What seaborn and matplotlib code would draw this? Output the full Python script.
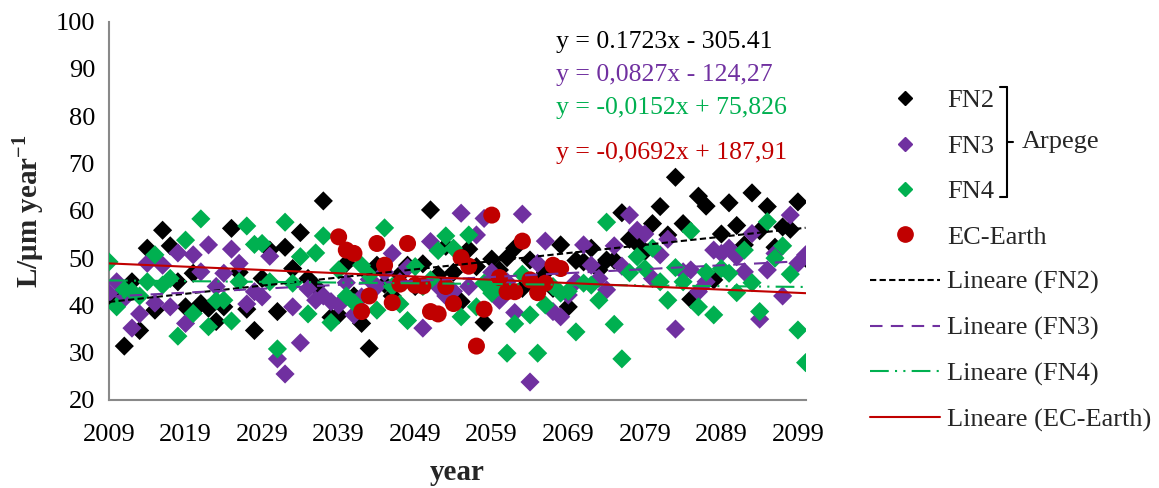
import numpy as np
import pandas as pd
import matplotlib
matplotlib.use("Agg")
import matplotlib.pyplot as plt
import seaborn as sns
from matplotlib.lines import Line2D

years = list(range(2009, 2101))

fn2 = [42.0, 41.5, 31.4, 45.0, 34.7, 52.1, 39.0, 55.9, 52.6, 45.0,
       39.7, 46.8, 40.4, 39.4, 36.6, 39.7, 56.3, 47.0, 39.2, 34.7,
       45.7, 51.7, 38.7, 52.3, 47.8, 55.4, 45.7, 44.0, 62.1, 37.5,
       38.0, 48.9, 42.0, 36.2, 30.9, 48.5, 44.5, 42.0, 46.5, 48.5,
       44.0, 48.8, 60.2, 46.5, 52.5, 47.0, 40.8, 51.9, 48.2, 36.4,
       49.8, 47.5, 50.1, 52.1, 43.6, 49.6, 45.0, 47.0, 43.6, 52.8,
       39.7, 49.5, 49.2, 52.1, 47.5, 49.6, 49.6, 59.6, 54.0, 53.0,
       51.4, 57.3, 60.9, 54.9, 67.1, 57.3, 41.3, 63.1, 61.0, 45.4,
       55.1, 61.7, 56.9, 52.8, 63.8, 55.8, 60.9, 52.3, 56.6, 56.1,
       61.9, 50.0]

fn3 = [42.6, 45.0, 41.5, 35.2, 38.2, 48.9, 40.5, 48.5, 39.7, 51.1,
       36.2, 50.7, 47.1, 52.8, 44.0, 46.8, 51.9, 48.9, 40.3, 42.9,
       41.8, 50.4, 28.7, 25.5, 39.7, 32.1, 43.5, 41.1, 42.0, 40.8,
       40.1, 44.8, 38.0, 41.8, 45.5, 44.0, 47.0, 51.0, 45.0, 48.0,
       44.5, 35.2, 53.5, 44.0, 42.0, 43.0, 59.5, 44.0, 54.9, 58.4,
       47.0, 41.1, 45.0, 38.5, 59.3, 23.8, 48.9, 53.6, 38.7, 37.6,
       42.2, 45.0, 52.8, 48.5, 45.7, 43.3, 52.6, 48.3, 59.1, 55.9,
       55.1, 45.7, 50.7, 54.0, 35.0, 47.1, 47.5, 42.9, 45.0, 51.7,
       51.0, 52.1, 50.3, 47.1, 55.2, 37.1, 47.5, 51.0, 42.0, 59.1,
       48.9, 50.7]

fn4 = [49.2, 39.7, 43.3, 43.0, 42.0, 45.0, 50.7, 44.3, 45.7, 33.5,
       53.8, 38.3, 58.3, 35.5, 41.0, 41.1, 36.7, 45.0, 56.8, 52.9,
       53.1, 45.0, 30.8, 57.6, 44.7, 50.3, 38.2, 51.1, 54.7, 36.4,
       47.5, 42.0, 40.6, 48.5, 46.4, 39.0, 56.4, 44.0, 40.3, 36.8,
       48.2, 44.0, 45.4, 51.6, 54.7, 52.1, 37.6, 54.9, 39.7, 44.7,
       42.6, 44.0, 29.9, 36.1, 46.6, 38.0, 29.9, 40.1, 44.0, 42.6,
       43.0, 34.4, 44.7, 44.3, 41.1, 57.6, 36.0, 28.7, 46.9, 50.3,
       47.8, 52.1, 45.0, 41.1, 48.0, 45.0, 55.7, 39.7, 47.0, 38.0,
       47.8, 46.8, 42.7, 51.7, 44.8, 38.7, 57.7, 50.0, 52.6, 46.6,
       34.8, 27.9]

ec_years = list(range(2039, 2069))
ec_earth = [54.5, 51.7, 51.0, 38.7, 42.0, 53.1, 48.5, 40.6, 44.5, 53.1,
            44.3, 44.1, 38.7, 38.2, 44.0, 40.4, 50.1, 48.3, 31.4, 39.2,
            59.1, 45.9, 42.9, 42.9, 53.6, 45.4, 42.7, 44.7, 48.5, 47.8]

# trend line coefficients as printed on the chart
trend_names = ["FN2", "FN3", "FN4", "EC-Earth"]
slopes = [0.1723, 0.0827, -0.0152, -0.0692]
intercepts = [-305.41, -124.27, 75.826, 187.91]
equations = ["y = 0.1723x - 305.41", "y = 0,0827x - 124,27",
             "y = -0,0152x + 75,826", "y = -0,0692x + 187,91"]

yticks = [20, 30, 40, 50, 60, 70, 80, 90, 100]
xticks = list(range(2009, 2100, 10))

colors = {"FN2": "#000000", "FN3": "#7030A0", "FN4": "#00B050", "EC-Earth": "#C00000"}

sns.set_theme(style="white")
plt.rcParams["font.family"] = ["Liberation Serif", "DejaVu Serif"]
plt.rcParams["mathtext.fontset"] = "custom"
plt.rcParams["mathtext.rm"] = "Liberation Serif"
plt.rcParams["mathtext.bf"] = "Liberation Serif:bold"

fig = plt.figure(figsize=(11.59, 4.88), dpi=100)
ax = fig.add_axes([109 / 1159, 1 - 400 / 488, (805.6 - 109) / 1159, (400 - 21.7) / 488])

df_arp = pd.DataFrame({"year": years, "FN2": fn2, "FN3": fn3, "FN4": fn4})
for name in ["FN2", "FN3", "FN4"]:
    sns.scatterplot(data=df_arp, x="year", y=name, ax=ax, marker="D", s=95,
                    color=colors[name], edgecolor="none", linewidth=0, zorder=3)
df_ec = pd.DataFrame({"year": ec_years, "EC-Earth": ec_earth})
sns.scatterplot(data=df_ec, x="year", y="EC-Earth", ax=ax, marker="o", s=150,
                color=colors["EC-Earth"], edgecolor="none", linewidth=0, zorder=4)

line_styles = {"FN2": (0, (3, 1.6)), "FN3": (0, (6, 4)),
               "FN4": (0, (9, 3, 1, 3, 1, 3)), "EC-Earth": "-"}
yrs = np.array([years[0], years[-1]], dtype=float)
for name, a, b in zip(trend_names, slopes, intercepts):
    dfl = pd.DataFrame({"year": yrs, "v": a * yrs + b})
    sns.lineplot(data=dfl, x="year", y="v", ax=ax, color=colors[name],
                 linewidth=1.5, zorder=5)
    ax.lines[-1].set_linestyle(line_styles[name])

ax.set_xlim(2009, 2100)
ax.set_ylim(20, 100)
ax.set_xticks(xticks)
ax.set_yticks(yticks)
ax.set_xticklabels([str(t) for t in xticks], fontsize=19)
ax.set_yticklabels([str(t) for t in yticks], fontsize=19)
ax.tick_params(axis="both", direction="in", length=6, width=1.2, color="#898989",
               colors="black", labelsize=19)
ax.tick_params(axis="x", pad=17)
ax.tick_params(axis="y", pad=10)
for s in ["top", "right"]:
    ax.spines[s].set_visible(False)
for s in ["left", "bottom"]:
    ax.spines[s].set_color("#898989")
    ax.spines[s].set_linewidth(1.5)

ax.set_xlabel("year", fontsize=21, fontweight="bold", labelpad=10)
ax.set_ylabel(r"L/μm year$^{\mathbf{-1}}$", fontsize=21, fontweight="bold", labelpad=7)

eq_y = [0.947, 0.859, 0.772, 0.653]
for txt, yy, name in zip(equations, eq_y, trend_names):
    ax.text(0.642, yy, txt, transform=ax.transAxes, fontsize=18.5,
            color=colors[name], va="center", ha="left")

handles = [
    Line2D([], [], marker="D", ls="none", color=colors["FN2"], markersize=7.5),
    Line2D([], [], marker="D", ls="none", color=colors["FN3"], markersize=7.5),
    Line2D([], [], marker="D", ls="none", color=colors["FN4"], markersize=7.5),
    Line2D([], [], marker="o", ls="none", color=colors["EC-Earth"], markersize=11),
    Line2D([], [], color=colors["FN2"], ls=line_styles["FN2"], lw=1.5),
    Line2D([], [], color=colors["FN3"], ls=line_styles["FN3"], lw=1.5),
    Line2D([], [], color=colors["FN4"], ls=line_styles["FN4"], lw=1.5),
    Line2D([], [], color=colors["EC-Earth"], ls="-", lw=1.5),
]
labels = ["FN2", "FN3", "FN4", "EC-Earth", "Lineare (FN2)", "Lineare (FN3)",
          "Lineare (FN4)", "Lineare (EC-Earth)"]
fig.legend(handles, labels, loc="upper left", bbox_to_anchor=(870 / 1159, 1 - 89 / 488),
           frameon=False, fontsize=19, handlelength=2.65, handletextpad=0.27,
           labelspacing=0.83, borderpad=0, borderaxespad=0)

# bracket grouping the Arpege runs
bx = 1007 / 1159
ytop = 1 - 87 / 488
ybot = 1 - 197 / 488
ymid = 1 - 142 / 488
lk = dict(color="black", lw=1.5, transform=fig.transFigure)
fig.add_artist(Line2D([bx, bx], [ytop, ybot], **lk))
fig.add_artist(Line2D([1000 / 1159, bx], [ytop, ytop], **lk))
fig.add_artist(Line2D([1000 / 1159, bx], [ybot, ybot], **lk))
fig.add_artist(Line2D([bx, 1013 / 1159], [ymid, ymid], **lk))
fig.text(1022 / 1159, ymid, "Arpege", fontsize=19, va="center", ha="left")

fig.savefig("out.png", dpi=100)
